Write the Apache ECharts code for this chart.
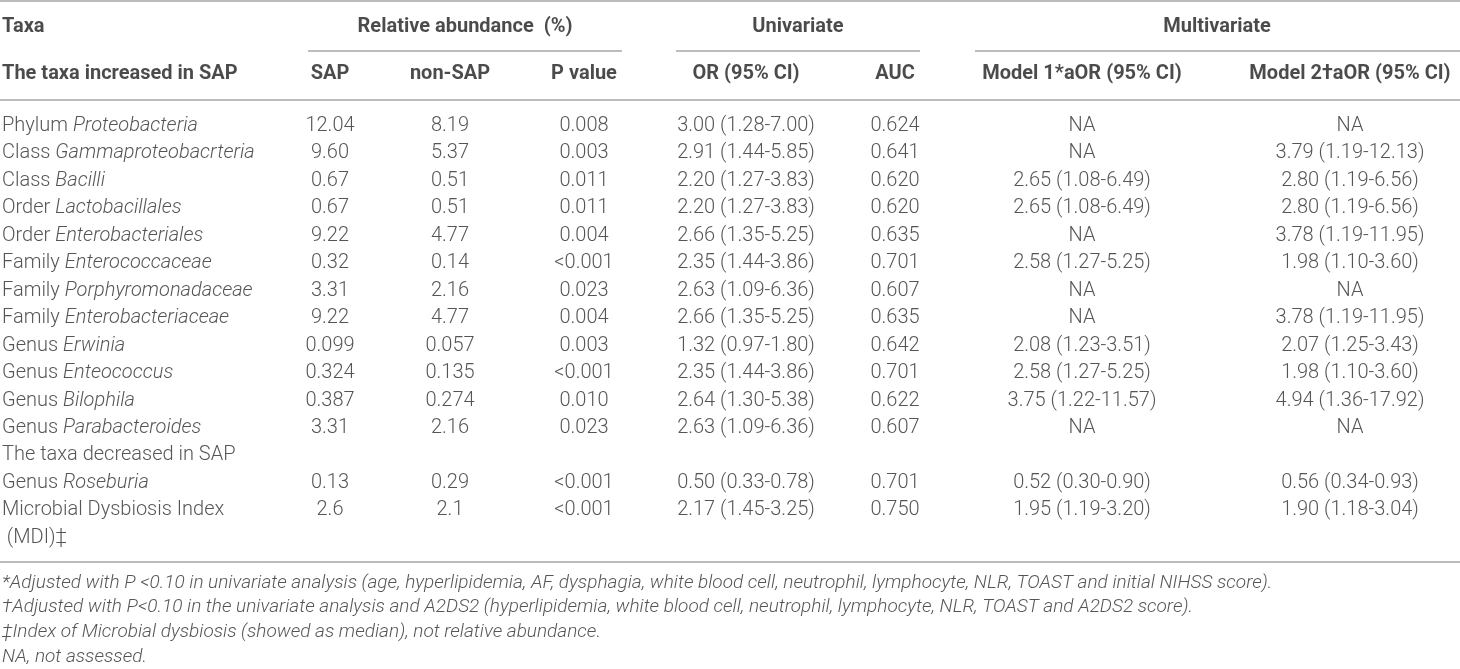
<!DOCTYPE html>
<html><head><meta charset="utf-8">
<script src="https://cdn.jsdelivr.net/npm/echarts@6/dist/echarts.min.js"></script>
<style>html,body{margin:0;padding:0;background:#fff}#c{width:1460px;height:669px}</style>
</head><body><div id="c"></div>
<script>
// ---- data ----
var groupHeaders = ['Taxa', 'Relative abundance  (%)', 'Univariate', 'Multivariate'];
var subHeaders = ['The taxa increased in SAP', 'SAP', 'non-SAP', 'P value', 'OR (95% CI)', 'AUC', 'Model 1*aOR (95% CI)', 'Model 2\u2020aOR (95% CI)'];
var taxaRank = ['Phylum', 'Class', 'Class', 'Order', 'Order', 'Family', 'Family', 'Family', 'Genus', 'Genus', 'Genus', 'Genus', 'The taxa decreased in SAP', 'Genus', 'Microbial Dysbiosis Index', ' (MDI)\u2021'];
var taxaName = ['Proteobacteria', 'Gammaproteobacrteria', 'Bacilli', 'Lactobacillales', 'Enterobacteriales', 'Enterococcaceae', 'Porphyromonadaceae', 'Enterobacteriaceae', 'Erwinia', 'Enteococcus', 'Bilophila', 'Parabacteroides', '', 'Roseburia', '', ''];
var sap = ['12.04', '9.60', '0.67', '0.67', '9.22', '0.32', '3.31', '9.22', '0.099', '0.324', '0.387', '3.31', '', '0.13', '2.6', ''];
var nonSap = ['8.19', '5.37', '0.51', '0.51', '4.77', '0.14', '2.16', '4.77', '0.057', '0.135', '0.274', '2.16', '', '0.29', '2.1', ''];
var pValue = ['0.008', '0.003', '0.011', '0.011', '0.004', '<0.001', '0.023', '0.004', '0.003', '<0.001', '0.010', '0.023', '', '<0.001', '<0.001', ''];
var orCI = ['3.00 (1.28-7.00)', '2.91 (1.44-5.85)', '2.20 (1.27-3.83)', '2.20 (1.27-3.83)', '2.66 (1.35-5.25)', '2.35 (1.44-3.86)', '2.63 (1.09-6.36)', '2.66 (1.35-5.25)', '1.32 (0.97-1.80)', '2.35 (1.44-3.86)', '2.64 (1.30-5.38)', '2.63 (1.09-6.36)', '', '0.50 (0.33-0.78)', '2.17 (1.45-3.25)', ''];
var auc = ['0.624', '0.641', '0.620', '0.620', '0.635', '0.701', '0.607', '0.635', '0.642', '0.701', '0.622', '0.607', '', '0.701', '0.750', ''];
var model1 = ['NA', 'NA', '2.65 (1.08-6.49)', '2.65 (1.08-6.49)', 'NA', '2.58 (1.27-5.25)', 'NA', 'NA', '2.08 (1.23-3.51)', '2.58 (1.27-5.25)', '3.75 (1.22-11.57)', 'NA', '', '0.52 (0.30-0.90)', '1.95 (1.19-3.20)', ''];
var model2 = ['NA', '3.79 (1.19-12.13)', '2.80 (1.19-6.56)', '2.80 (1.19-6.56)', '3.78 (1.19-11.95)', '1.98 (1.10-3.60)', 'NA', '3.78 (1.19-11.95)', '2.07 (1.25-3.43)', '1.98 (1.10-3.60)', '4.94 (1.36-17.92)', 'NA', '', '0.56 (0.34-0.93)', '1.90 (1.18-3.04)', ''];
var footnotes = [
  '*Adjusted with P <0.10 in univariate analysis (age, hyperlipidemia, AF, dysphagia, white blood cell, neutrophil, lymphocyte, NLR, TOAST and initial NIHSS score).',
  '\u2020Adjusted with P<0.10 in the univariate analysis and A2DS2 (hyperlipidemia, white blood cell, neutrophil, lymphocyte, NLR, TOAST and A2DS2 score).',
  '\u2021Index of Microbial dysbiosis (showed as median), not relative abundance.',
  'NA, not assessed.'
];

// ---- layout (pixel space of the hidden axes) ----
var L = {
  colX: [2, 330, 450, 584, 746, 895, 1082, 1350],
  groupX: [2, 465, 798, 1217],
  groupLine: [[308, 622], [676, 920], [975, 1460]],
  yTop: 1, yGroup: 27, yGroupLine: 51, ySub: 74, yHeadLine: 100,
  yRow0: 126, rowH: 27.45, yBottom: 562, yFoot0: 583, footH: 24.6
};
var FONT = 'Roboto';
var bodyColor = '#2b2b2b';
var headColor = '#1e1e1e';
var ruleColor = '#a6a6a6';

function cell(x, y, text, align, style) {
  return { value: [x, y], text: text, label: Object.assign({ align: align }, style || {}) };
}
var cells = [];
groupHeaders.forEach(function (t, i) {
  cells.push(cell(L.groupX[i], L.yGroup, t, i === 0 ? 'left' : 'center', { fontWeight: 'bold', color: headColor }));
});
subHeaders.forEach(function (t, i) {
  cells.push(cell(L.colX[i], L.ySub, t, i === 0 ? 'left' : 'center', { fontWeight: 'bold', color: headColor }));
});
var cols = [sap, nonSap, pValue, orCI, auc, model1, model2];
taxaRank.forEach(function (r, i) {
  var y = L.yRow0 + L.rowH * i;
  var t = taxaName[i] ? r + ' {i|' + taxaName[i] + '}' : r;
  cells.push(cell(L.colX[0], y, t, 'left'));
  cols.forEach(function (c, j) {
    if (c[i]) cells.push(cell(L.colX[j + 1], y, c[i], 'center'));
  });
});
footnotes.forEach(function (t, i) {
  cells.push(cell(L.colX[0], L.yFoot0 + L.footH * i, t, 'left', { fontStyle: 'italic', fontSize: 19 }));
});

var rules = [
  [[0, L.yTop], [1460, L.yTop]],
  [[L.groupLine[0][0], L.yGroupLine], [L.groupLine[0][1], L.yGroupLine]],
  [[L.groupLine[1][0], L.yGroupLine], [L.groupLine[1][1], L.yGroupLine]],
  [[L.groupLine[2][0], L.yGroupLine], [L.groupLine[2][1], L.yGroupLine]],
  [[0, L.yHeadLine], [1460, L.yHeadLine]],
  [[0, L.yBottom], [1460, L.yBottom]]
];

var series = rules.map(function (seg) {
  return { type: 'line', data: seg, symbol: 'none', silent: true, animation: false,
    lineStyle: { color: ruleColor, width: 1.6 } };
});
series.push({
  type: 'scatter', data: cells, symbolSize: 0, silent: true, animation: false,
  label: {
    show: true, position: [0, 0], verticalAlign: 'middle',
    fontFamily: FONT, fontSize: 20, fontWeight: 300, color: bodyColor,
    formatter: function (p) { return p.data.text; },
    rich: { i: { fontStyle: 'italic', fontFamily: FONT, fontSize: 20, fontWeight: 300, color: bodyColor } }
  }
});

var chart = echarts.init(document.getElementById('c'), null, { renderer: 'canvas' });
chart.setOption({
  animation: false,
  grid: { left: 0, right: 0, top: 0, bottom: 0 },
  xAxis: { type: 'value', min: 0, max: 1460, show: false },
  yAxis: { type: 'value', min: 0, max: 669, inverse: true, show: false },
  series: series
});
</script></body></html>
